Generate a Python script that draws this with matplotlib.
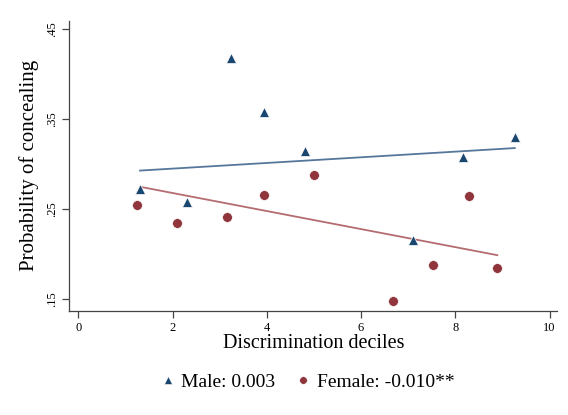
import matplotlib
matplotlib.use("Agg")
import matplotlib.pyplot as plt
from matplotlib.lines import Line2D

# Data
male_x = [1.31, 2.31, 3.24, 3.93, 4.81, 7.11, 8.16, 9.26]
male_y = [0.272, 0.258, 0.418, 0.358, 0.315, 0.216, 0.308, 0.330]
female_x = [1.25, 2.10, 3.16, 3.94, 5.00, 6.68, 7.52, 8.29, 8.89]
female_y = [0.255, 0.235, 0.241, 0.266, 0.288, 0.148, 0.188, 0.265, 0.185]

# Fitted lines (endpoints)
male_fit_x = [1.31, 9.26]
male_fit_y = [0.293, 0.318]
female_fit_x = [1.31, 8.89]
female_fit_y = [0.275, 0.199]

xticks = [0, 2, 4, 6, 8, 10]
yticks = [0.15, 0.25, 0.35, 0.45]
ytick_labels = [".15", ".25", ".35", ".45"]

legend_labels = ["Male: 0.003", "Female: -0.010**"]

navy = "#1a476f"
maroon = "#90353b"
navy_line = "#56779c"
maroon_line = "#b56c70"

plt.rcParams['font.family'] = ['Liberation Serif', 'DejaVu Serif']

fig = plt.figure(figsize=(5.68, 4.15), dpi=100)
ax = fig.add_axes([0.122, 0.2513, 0.859, 0.699])

ax.plot(male_fit_x, male_fit_y, color=navy_line, lw=1.3, zorder=2)
ax.plot(female_fit_x, female_fit_y, color=maroon_line, lw=1.3, zorder=2)
ax.plot(male_x, male_y, linestyle='none', marker='^', markersize=7.5,
        color=navy, markeredgecolor='white', markeredgewidth=0.5, zorder=3)
ax.plot(female_x, female_y, linestyle='none', marker='o', markersize=7,
        color=maroon, markeredgecolor='white', markeredgewidth=0.4, zorder=3)

ax.set_xlim(-0.19, 10.16)
ax.set_ylim(0.1373, 0.4596)
ax.set_xticks(xticks)
ax.set_xticklabels([str(t) for t in xticks], fontsize=9)
ax.set_yticks(yticks)
ax.set_yticklabels(ytick_labels, fontsize=9, rotation=90, va='center')

for s in ['top', 'right']:
    ax.spines[s].set_visible(False)
for s in ['left', 'bottom']:
    ax.spines[s].set_color('#444444')
    ax.spines[s].set_linewidth(0.9)
ax.tick_params(axis='both', direction='out', length=5, width=0.9, color='#444444', pad=3)

ax.set_xlabel("Discrimination deciles", fontsize=14.5, labelpad=0)
ax.set_ylabel("Probability of concealing", fontsize=15, labelpad=5)

handles = [
    Line2D([], [], linestyle='none', marker='^', markersize=6, color=navy,
           markeredgecolor='white', markeredgewidth=0.4),
    Line2D([], [], linestyle='none', marker='o', markersize=5.5, color=maroon,
           markeredgecolor='white', markeredgewidth=0.4),
]
fig.legend(handles, legend_labels, loc='center', bbox_to_anchor=(0.5375, 0.079),
           ncol=2, frameon=False, fontsize=14, handletextpad=0.1,
           columnspacing=0.85, handlelength=1.2)

fig.savefig("out.png", dpi=100)
